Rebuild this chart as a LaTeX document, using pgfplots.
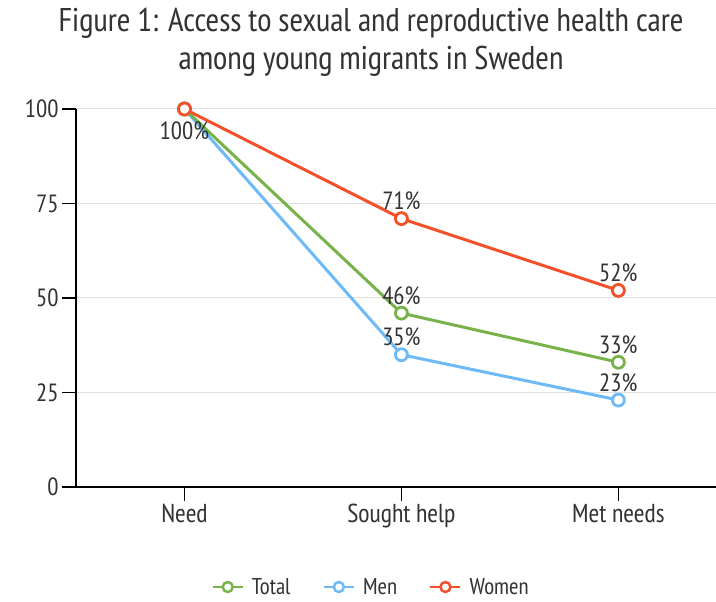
\documentclass[border=0pt]{standalone}
\usepackage{pgfplots}
\pgfplotsset{compat=1.18}
\usepackage{fontspec}
\setmainfont{PT Sans Narrow}
\definecolor{cTotal}{HTML}{77B24A}
\definecolor{cMen}{HTML}{6DBAF6}
\definecolor{cWomen}{HTML}{F4502A}
\definecolor{txt}{HTML}{333333}
\begin{document}
\begin{tikzpicture}[x=1bp,y=1bp]
\path[use as bounding box] (-76,-115) rectangle (640,487);
\begin{axis}[
  at={(0,0)}, anchor=south west,
  scale only axis, width=640bp, height=378bp,
  xmin=-0.5, xmax=2.45, ymin=0, ymax=100,
  clip=false,
  axis x line*=bottom, axis y line*=left,
  axis line style={line width=1.3bp, black, -},
  xtick={0,1,2}, xticklabels={Need,Sought help,Met needs},
  ytick={0,25,50,75,100},
  tick align=outside, major tick length=14bp,
  tick style={line width=1.3bp, black},
  ymajorgrids, major grid style={line width=1bp, color=black!12},
  /pgf/number format/assume math mode=true,
  yticklabel style={font=\fontsize{25}{28}\selectfont, text=txt},
  xticklabel style={font=\fontsize{26}{29}\selectfont, text=txt},
  every node near coord/.append style={font=\fontsize{25}{28}\selectfont, text=txt, anchor=base, inner sep=0pt, yshift=9bp},
  legend style={at={(rel axis cs:0.461,-0.2646)}, anchor=center, draw=none, fill=none,
    legend columns=3, font=\fontsize{23}{25}\selectfont, text=txt, inner sep=0pt,
    /tikz/every even column/.append style={column sep=30bp},
    /tikz/every odd column/.append style={column sep=6bp}},
  legend cell align=left,
  legend image code/.code={\draw[mark repeat=2,mark phase=2] plot coordinates {(0bp,0bp)(15bp,0bp)(30bp,0bp)};},
]
\addlegendimage{cTotal, line width=2.5bp, mark=*, mark size=5bp, mark options={fill=white, line width=2.5bp}}
\addlegendentry{Total}
\addlegendimage{cMen, line width=2.5bp, mark=*, mark size=5bp, mark options={fill=white, line width=2.5bp}}
\addlegendentry{Men}
\addlegendimage{cWomen, line width=2.5bp, mark=*, mark size=5bp, mark options={fill=white, line width=2.5bp}}
\addlegendentry{Women}

\addplot[forget plot, cMen, line width=3bp, mark=*, mark size=6bp, mark options={fill=white, line width=2.8bp},
  point meta=explicit symbolic, nodes near coords]
  coordinates {(0,100)[] (1,35)[35\%] (2,23)[23\%]};
\addplot[forget plot, cTotal, line width=3bp, mark=*, mark size=6bp, mark options={fill=white, line width=2.8bp},
  point meta=explicit symbolic, nodes near coords]
  coordinates {(0,100)[] (1,46)[46\%] (2,33)[33\%]};
\addplot[forget plot, cWomen, line width=3bp, mark=*, mark size=6bp, mark options={fill=white, line width=2.8bp},
  point meta=explicit symbolic, nodes near coords]
  coordinates {(0,100)[] (1,71)[71\%] (2,52)[52\%]};
\addplot[forget plot, draw=none, point meta=explicit symbolic, nodes near coords,
  every node near coord/.append style={yshift=-40bp}]
  coordinates {(0,100)[100\%]};

\node[anchor=base, text=txt, font=\fontsize{33}{36}\selectfont] at (rel axis cs:0.461,1.2037) {Figure 1: Access to sexual and reproductive health care};
\node[anchor=base, text=txt, font=\fontsize{33}{36}\selectfont] at (rel axis cs:0.461,1.1032) {among young migrants in Sweden};
\end{axis}
\end{tikzpicture}
\end{document}
